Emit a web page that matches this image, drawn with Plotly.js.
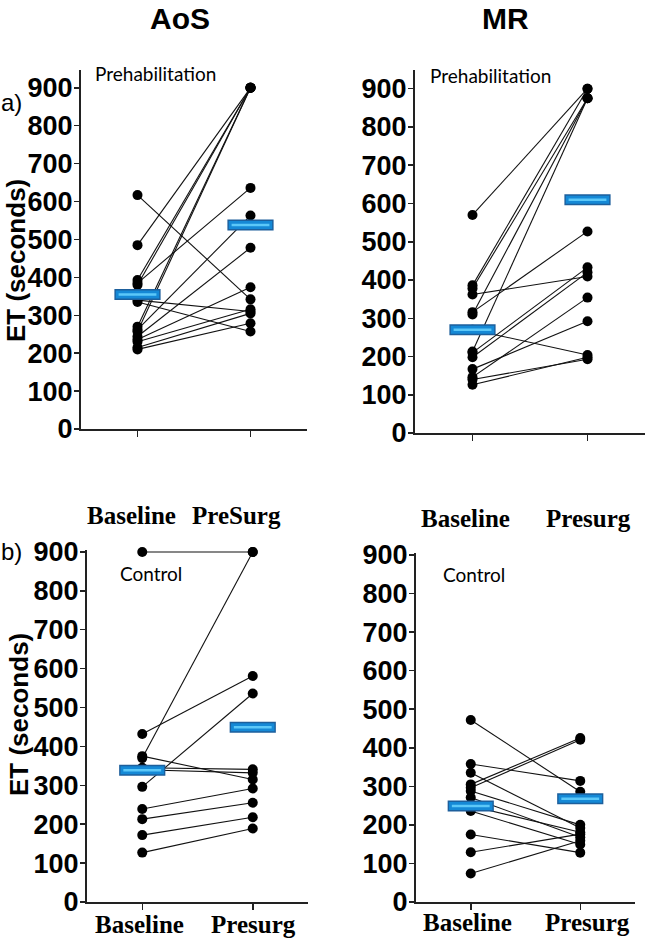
<!DOCTYPE html>
<html>
<head>
<meta charset="utf-8">
<script src="https://cdn.plot.ly/plotly-3.0.1.min.js"></script>
<style>html,body{margin:0;padding:0;background:#fff;} #chart{width:650px;height:941px;}</style>
</head>
<body>
<div id="chart"></div>
<script>
// ---- data ----
const groupPositions = [0, 1];
const yTickValues = [0, 100, 200, 300, 400, 500, 600, 700, 800, 900];

const columnTitles = ['AoS', 'MR'];
const rowLabels = ['a)', 'b)'];
const topGroupLabelsLeft = ['Baseline', 'PreSurg'];
const topGroupLabelsRight = ['Baseline', 'Presurg'];
const bottomGroupLabels = ['Baseline', 'Presurg'];
const yTitle = 'ET (seconds)';

// AoS, Prehabilitation
const aosPreBaseline = [617, 485, 393, 385, 380, 340, 335, 270, 262, 257, 244, 236, 230, 215, 210];
const aosPrePresurg  = [342, 900, 900, 636, 900, 310, 257, 900, 563, 900, 478, 374, 316, 305, 279];
const aosPreMeans    = [355, 538];

// MR, Prehabilitation
const mrPreBaseline = [570, 386, 378, 362, 316, 310, 270, 213, 210, 198, 167, 146, 140, 126];
const mrPrePresurg  = [900, 900, 875, 409, 527, 875, 204, 875, 433, 420, 292, 354, 193, 198];
const mrPreMeans    = [270, 610];

// AoS, Control
const aosCtlBaseline = [900, 432, 375, 370, 345, 340, 296, 239, 213, 172, 127];
const aosCtlPresurg  = [900, 581, 315, 900, 341, 332, 536, 292, 255, 218, 189];
const aosCtlMeans    = [339, 449];

// MR, Control
const mrCtlBaseline = [472, 358, 335, 305, 296, 288, 271, 249, 236, 175, 129, 74];
const mrCtlPresurg  = [286, 314, 192, 425, 421, 200, 168, 181, 149, 128, 176, 159];
const mrCtlMeans    = [249, 268];

// ---- traces ----
function pairTrace(base, post, xa, ya) {
  const xs = [], ys = [];
  for (let i = 0; i < base.length; i++) {
    xs.push(groupPositions[0], groupPositions[1], null);
    ys.push(base[i], post[i], null);
  }
  return {
    type: 'scatter', mode: 'lines+markers', x: xs, y: ys, xaxis: xa, yaxis: ya,
    line: {color: '#111', width: 1.1},
    marker: {color: '#000', size: 10},
    cliponaxis: false,
    hoverinfo: 'skip', showlegend: false, connectgaps: false
  };
}
function meanTraces(means, xa, ya) {
  const layers = [
    {size: 33, width: 11, color: '#1d5f9c'},
    {size: 31, width: 8, color: '#1589d6'},
    {size: 27, width: 2.5, color: '#5cc8f8'}
  ];
  return layers.map(l => ({
    type: 'scatter', mode: 'markers', x: groupPositions, y: means, xaxis: xa, yaxis: ya,
    marker: {symbol: 'line-ew', size: l.size, color: l.color, line: {width: l.width, color: l.color}},
    cliponaxis: false,
    hoverinfo: 'skip', showlegend: false
  }));
}

const data = [
  pairTrace(aosPreBaseline, aosPrePresurg, 'x', 'y'),
  pairTrace(mrPreBaseline, mrPrePresurg, 'x2', 'y2'),
  pairTrace(aosCtlBaseline, aosCtlPresurg, 'x3', 'y3'),
  pairTrace(mrCtlBaseline, mrCtlPresurg, 'x4', 'y4'),
  ...meanTraces(aosPreMeans, 'x', 'y'),
  ...meanTraces(mrPreMeans, 'x2', 'y2'),
  ...meanTraces(aosCtlMeans, 'x3', 'y3'),
  ...meanTraces(mrCtlMeans, 'x4', 'y4')
];

// ---- layout ----
const W = 650, H = 941;
const px = v => v / W;
const py = v => 1 - v / H;

function xAxis(domain, anchor) {
  return {
    domain: domain, anchor: anchor, range: [-0.5, 1.5],
    tickvals: groupPositions, showticklabels: false,
    ticks: 'outside', ticklen: 6, tickwidth: 1.5, tickcolor: '#222',
    showline: true, linecolor: '#222', linewidth: 2,
    showgrid: false, zeroline: false, fixedrange: true
  };
}
function yAxis(domain, anchor, top) {
  return {
    domain: domain, anchor: anchor, range: [0, top],
    tickvals: yTickValues,
    tickfont: {family: 'Liberation Sans Narrow, Arial Narrow, sans-serif', size: 27, color: '#000', weight: 700},
    ticklabelstandoff: -4,
    ticks: 'outside', ticklen: 5, tickwidth: 1.5, tickcolor: '#222',
    showline: true, linecolor: '#222', linewidth: 2,
    showgrid: false, zeroline: false, fixedrange: true
  };
}

const sansBold = {family: 'Liberation Sans, Arial, sans-serif', color: '#000', weight: 700};
const serifBold = {family: 'Liberation Serif, Times New Roman, serif', size: 25, color: '#000', weight: 700};
const noteFont = {family: 'Lato, Open Sans, sans-serif', size: 19, color: '#000'};

function ann(text, x, y, font, extra) {
  return Object.assign({text: text, xref: 'paper', yref: 'paper', x: px(x), y: py(y),
    showarrow: false, font: font, xanchor: 'center', yanchor: 'middle'}, extra || {});
}

const annotations = [
  ann(columnTitles[0], 180, 18, Object.assign({size: 30}, sansBold)),
  ann(columnTitles[1], 505, 18, Object.assign({size: 30}, sansBold)),
  ann(rowLabels[0], 11, 103, {family: 'Liberation Sans, Arial, sans-serif', size: 24, color: '#000'}),
  ann(rowLabels[1], 11, 551, {family: 'Liberation Sans, Arial, sans-serif', size: 24, color: '#000'}),
  ann(yTitle, 16, 261, Object.assign({size: 26}, sansBold), {textangle: -90}),
  ann(yTitle, 19, 715, Object.assign({size: 26}, sansBold), {textangle: -90}),
  ann('Prehabilitation', 93, 74, noteFont, {xanchor: 'left'}),
  ann('Prehabilitation', 428, 75, noteFont, {xanchor: 'left'}),
  ann('Control', 118, 573, noteFont, {xanchor: 'left'}),
  ann('Control', 441, 574, noteFont, {xanchor: 'left'}),
  ann(topGroupLabelsLeft[0], 131, 515, serifBold),
  ann(topGroupLabelsLeft[1], 236, 515, serifBold),
  ann(topGroupLabelsRight[0], 465, 518, serifBold),
  ann(topGroupLabelsRight[1], 588, 518, serifBold),
  ann(bottomGroupLabels[0], 139, 924, serifBold),
  ann(bottomGroupLabels[1], 253, 924, serifBold),
  ann(bottomGroupLabels[0], 467, 922, serifBold),
  ann(bottomGroupLabels[1], 587, 922, serifBold)
];

const layout = {
  width: W, height: H,
  margin: {l: 0, r: 0, t: 0, b: 0},
  paper_bgcolor: '#fff', plot_bgcolor: 'rgba(0,0,0,0)',
  showlegend: false,
  xaxis:  xAxis([px(81), px(307)], 'y'),
  yaxis:  yAxis([py(429), py(70)], 'x', 947),
  xaxis2: xAxis([px(415), px(645)], 'y2'),
  yaxis2: yAxis([py(433), py(70)], 'x2', 949),
  xaxis3: xAxis([px(87), px(308)], 'y3'),
  yaxis3: yAxis([py(902), py(550)], 'x3', 905),
  xaxis4: xAxis([px(416), px(635)], 'y4'),
  yaxis4: yAxis([py(902), py(553)], 'x4', 905),
  annotations: annotations
};

Plotly.newPlot('chart', data, layout, {displayModeBar: false, staticPlot: true});
</script>
</body>
</html>
